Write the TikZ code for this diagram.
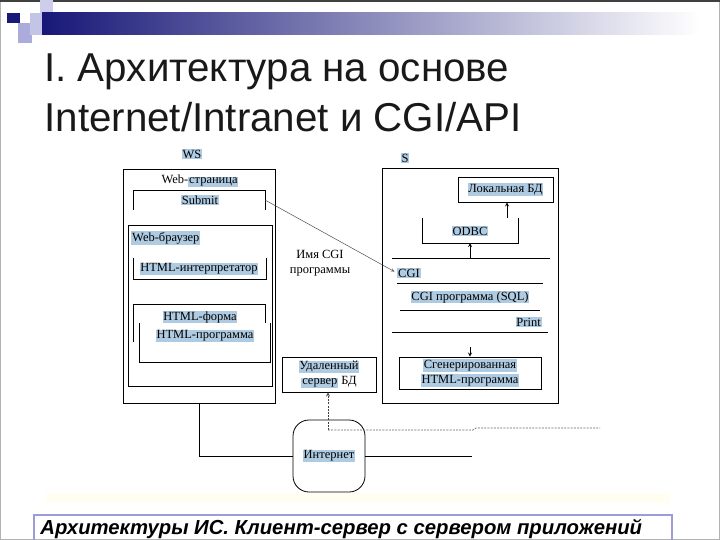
\documentclass[tikz,border=0pt]{standalone}
\usepackage{fontspec}
\setmainfont{Liberation Serif}
\newfontfamily\titlefont{Liberation Sans}
\usetikzlibrary{positioning}
\definecolor{hlblue}{RGB}{174,203,226}
\definecolor{navy}{RGB}{24,24,120}
\definecolor{lavender}{RGB}{156,156,214}
\newcommand{\hlt}[1]{{\setlength{\fboxsep}{0.8pt}\colorbox{hlblue}{#1}}}
\tikzset{
  lbl/.style={font=\fontsize{12.5}{15}\selectfont,inner sep=0pt,align=center},
  boite/.style={draw,line width=0.8pt,inner sep=0pt,align=center,font=\fontsize{12.5}{15}\selectfont},
  titre/.style={font=\titlefont\fontsize{40.3}{46}\selectfont,text=black!90,inner sep=0pt,anchor=base west}
}
\begin{document}
\begin{tikzpicture}[x=1pt,y=-1pt,>=stealth,line width=0.8pt]
  \useasboundingbox (0,0) rectangle (720,540);
  % cadre de la diapo
  \draw[gray!60,line width=1pt] (0.5,0.5) rectangle (719.5,539.5);
  \fill[black!75] (0,0) rectangle (720,2);

  % decor en haut
  \fill[lavender!50] (40,0) rectangle (53,23);
  \fill[lavender!85] (18,23) rectangle (32,43);
  \fill[lavender!60] (30,13) rectangle (42,35);
  \shade[left color=navy,right color=white] (42,13) rectangle (700,35);
  \fill[navy] (7,13) rectangle (20,23);

  % titre
  \node[titre] (titre1) at (44,82) {I. Архитектура на основе};
  \node[titre] (titre2) at (44,132) {Internet/Intranet и CGI/API};

  % WS
  \node[lbl] (ws) at (192,154) {\hlt{WS}};
  \node[boite,minimum width=152,minimum height=234] (wsbox) at (199,286) {};
  \node[lbl] (page) at (200,181) {Web-\hlt{страница}};
  \draw (133,210) |- (265,190) -- (265,210);
  \node[lbl] (submit) at (200,200) {\hlt{Submit}};
  \coordinate (sub) at (265,200);
  \node[boite,minimum width=144,minimum height=161] (browser) at (200,305.5) {};
  \node[lbl,anchor=west] (brlbl) at (131,238) {\hlt{Web-браузер}};
  \draw (133,258) |- (266,279) -- (266,258);
  \node[lbl] (interp) at (199,269) {\hlt{HTML-интерпретатор}};
  \draw (133,342) |- (265,304) -- (265,323);
  \draw (139,323) |- (270,362) -- (270,323);
  \node[lbl] (forma) at (200,317) {\hlt{HTML-форма}};
  \node[lbl] (htmlprog) at (205,336) {\hlt{HTML-программа}};
  \coordinate (wsb) at (199,403);

  % S
  \node[lbl] (s) at (405,158) {\hlt{S}};
  \node[boite,minimum width=176,minimum height=235] (sbox) at (470,285.5) {};
  \node[boite,minimum width=95,minimum height=25] (lokal) at (505.5,189.5) {\hlt{Локальная БД}};
  \draw (422,218) |- (518,243) -- (518,218);
  \node[lbl] (odbc) at (470,231) {\hlt{ODBC}};
  \coordinate (odbct) at (507,218);
  \coordinate (odbcb) at (470,243);
  \draw[->] (odbct) -- (odbct |- lokal.south);
  \draw (392,258) -- (550,258);
  \coordinate (l1) at (470,258);
  \draw[->] (l1) -- (odbcb);
  \node[lbl,anchor=west] (cgi) at (397,273) {\hlt{CGI}};
  \draw (397,283) -- (543,283);
  \node[lbl] (cgiprog) at (470,297) {\hlt{CGI программа (SQL)}};
  \draw (400,310) -- (540,310);
  \node[lbl,anchor=east] (print) at (542,322) {\hlt{Print}};
  \draw (392,332) -- (548,332);
  \node[boite,minimum width=142,minimum height=32] (gen) at (470,373)
    {\hlt{Сгенерированная}\\\hlt{HTML-программа}};
  \coordinate (l3) at (470,347);
  \draw[->] (l3) -- (gen.north);

  % nom du programme CGI
  \node[lbl] (nom) at (320,263) {Имя CGI\\программы};
  \draw[->,black!70,line width=0.5pt,shorten >=3pt] (sub) -- (cgi.west);

  % serveur distant et Internet
  \node[boite,minimum width=94,minimum height=35] (udal) at (329,374.5)
    {\hlt{Удаленный}\\\hlt{сервер} БД};
  \node[boite,minimum width=72,minimum height=72,rounded corners=16] (inet) at (329,456) {\hlt{Интернет}};
  \coordinate (dd) at (328,430);
  \draw[->,dash pattern=on 2pt off 1.2pt,black!75] (dd) -- (dd |- udal.south);
  \draw[dash pattern=on 2pt off 1.2pt,black!60,line width=0.6pt] (dd) -- (473,430) -- (476,428) -- (600,428);
  \draw (wsb) |- (inet.west);
  \coordinate (inetr) at (472,456);
  \draw (inet.east) -- (inetr);

  % legende
  \fill[yellow!6] (46,493) rectangle (670,503);
  \draw[lavender,line width=1.5pt] (34,515) rectangle (672,548);
  \node[font=\titlefont\bfseries\itshape\fontsize{20.3}{24}\selectfont,inner sep=0pt,anchor=base west] (legende) at (40,534)
    {Архитектуры ИС. Клиент-сервер с сервером приложений};
\end{tikzpicture}
\end{document}
